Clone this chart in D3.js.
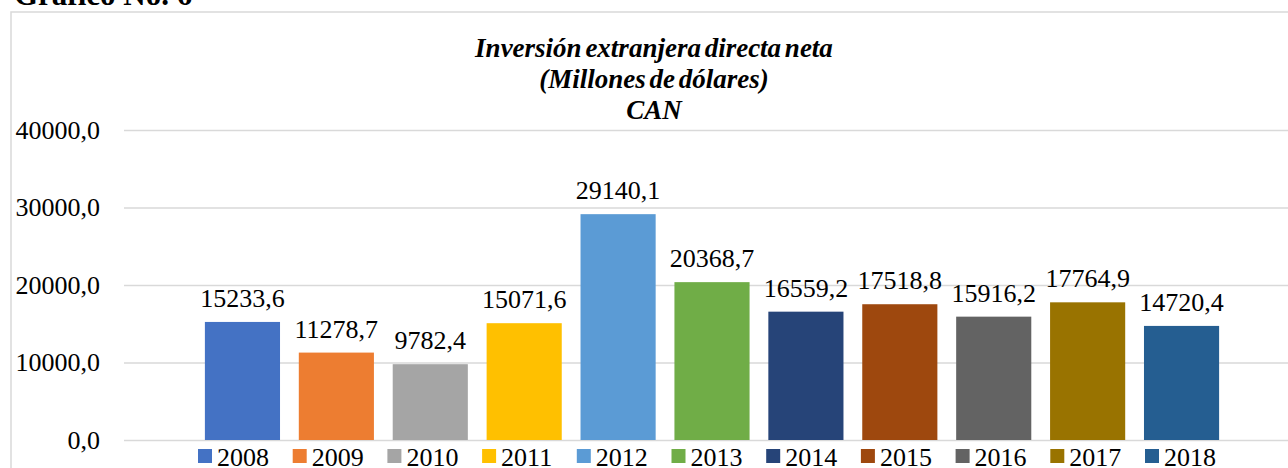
<!DOCTYPE html>
<html>
<head>
<meta charset="utf-8">
<script src="https://cdn.jsdelivr.net/npm/d3@7"></script>
<style>
  body { margin: 0; background: #fff; }
</style>
</head>
<body>
<div id="chart"></div>
<script>
// Data
var years = ["2008", "2009", "2010", "2011", "2012", "2013", "2014", "2015", "2016", "2017", "2018"];
var values = [15233.6, 11278.7, 9782.4, 15071.6, 29140.1, 20368.7, 16559.2, 17518.8, 15916.2, 17764.9, 14720.4];
var colors = ["#4472C4", "#ED7D31", "#A5A5A5", "#FFC000", "#5B9BD5", "#70AD47", "#264478", "#9E480E", "#636363", "#997300", "#255E91"];
var yTicks = [0, 10000, 20000, 30000, 40000];
var titleLines = ["Inversión extranjera directa neta", "(Millones de dólares)", "CAN"];

var serif = '"Liberation Serif", "Times New Roman", serif';
var svgWidth = 1288;
var svgHeight = 468;
var svg = d3.select("#chart").append("svg").attr("width", svgWidth).attr("height", svgHeight)
    .style("font-family", serif);

// Set up the scales.
var yScale = d3.scaleLinear().domain([0, 40000]).range([440, 130]);
var xScale = d3.scaleBand().domain(years).range([195.5, 1228.5]).paddingInner(0.2).paddingOuter(0.1);
var fmt = v => d3.format(".1f")(v).replace(".", ",");

// Outer chart frame and caption above it.
svg.append("rect").attr("x", 11).attr("y", 12).attr("width", 1300).attr("height", 500)
    .attr("fill", "none").attr("stroke", "#d9d9d9").attr("stroke-width", 1.5);
svg.append("text").attr("x", 14).attr("y", 5).style("font-family", serif)
    .attr("font-size", "31px").attr("font-weight", "bold")
    .text("Gráfico No. 6");

// Title
svg.append("g").selectAll("text").data(titleLines).enter().append("text")
    .attr("x", 654).attr("y", (d, i) => 57 + i * 31)
    .attr("text-anchor", "middle").style("font-family", serif).attr("font-size", "27px")
    .attr("font-weight", "bold").attr("font-style", "italic").attr("word-spacing", "-3px")
    .text(d => d);

// Gridlines and y tick labels.
var leftAxis = d3.axisLeft(yScale).tickValues(yTicks).tickSize(-1200).tickPadding(24).tickFormat(fmt);
var yAxis = svg.append("g").attr("transform", "translate(124,0)").call(leftAxis);
yAxis.select(".domain").remove();
yAxis.selectAll(".tick line").attr("stroke", "#d9d9d9").attr("stroke-width", 1.5);
yAxis.selectAll(".tick text").style("font-family", serif).attr("font-size", "26px").attr("fill", "#000");

// Bars
svg.append("g").selectAll("rect").data(years).enter().append("rect")
    .attr("x", d => xScale(d)).attr("width", xScale.bandwidth())
    .attr("y", (d, i) => yScale(values[i])).attr("height", (d, i) => yScale(0) - yScale(values[i]))
    .attr("fill", (d, i) => colors[i]);

// Value labels
svg.append("g").selectAll("text").data(years).enter().append("text")
    .attr("x", d => xScale(d) + xScale.bandwidth() / 2)
    .attr("y", (d, i) => yScale(values[i]) - 15)
    .attr("text-anchor", "middle").style("font-family", serif).attr("font-size", "26px")
    .text((d, i) => fmt(values[i]));

// Legend
var legendX = d3.scalePoint().domain(years).range([198, 1145]);
var legend = svg.append("g").selectAll("g").data(years).enter().append("g")
    .attr("transform", d => `translate(${legendX(d)},0)`);
legend.append("rect").attr("x", 0).attr("y", 449).attr("width", 14).attr("height", 14)
    .attr("fill", (d, i) => colors[i]);
legend.append("text").attr("x", 19).attr("y", 466).style("font-family", serif)
    .attr("font-size", "26px").text(d => d);
</script>
</body>
</html>
